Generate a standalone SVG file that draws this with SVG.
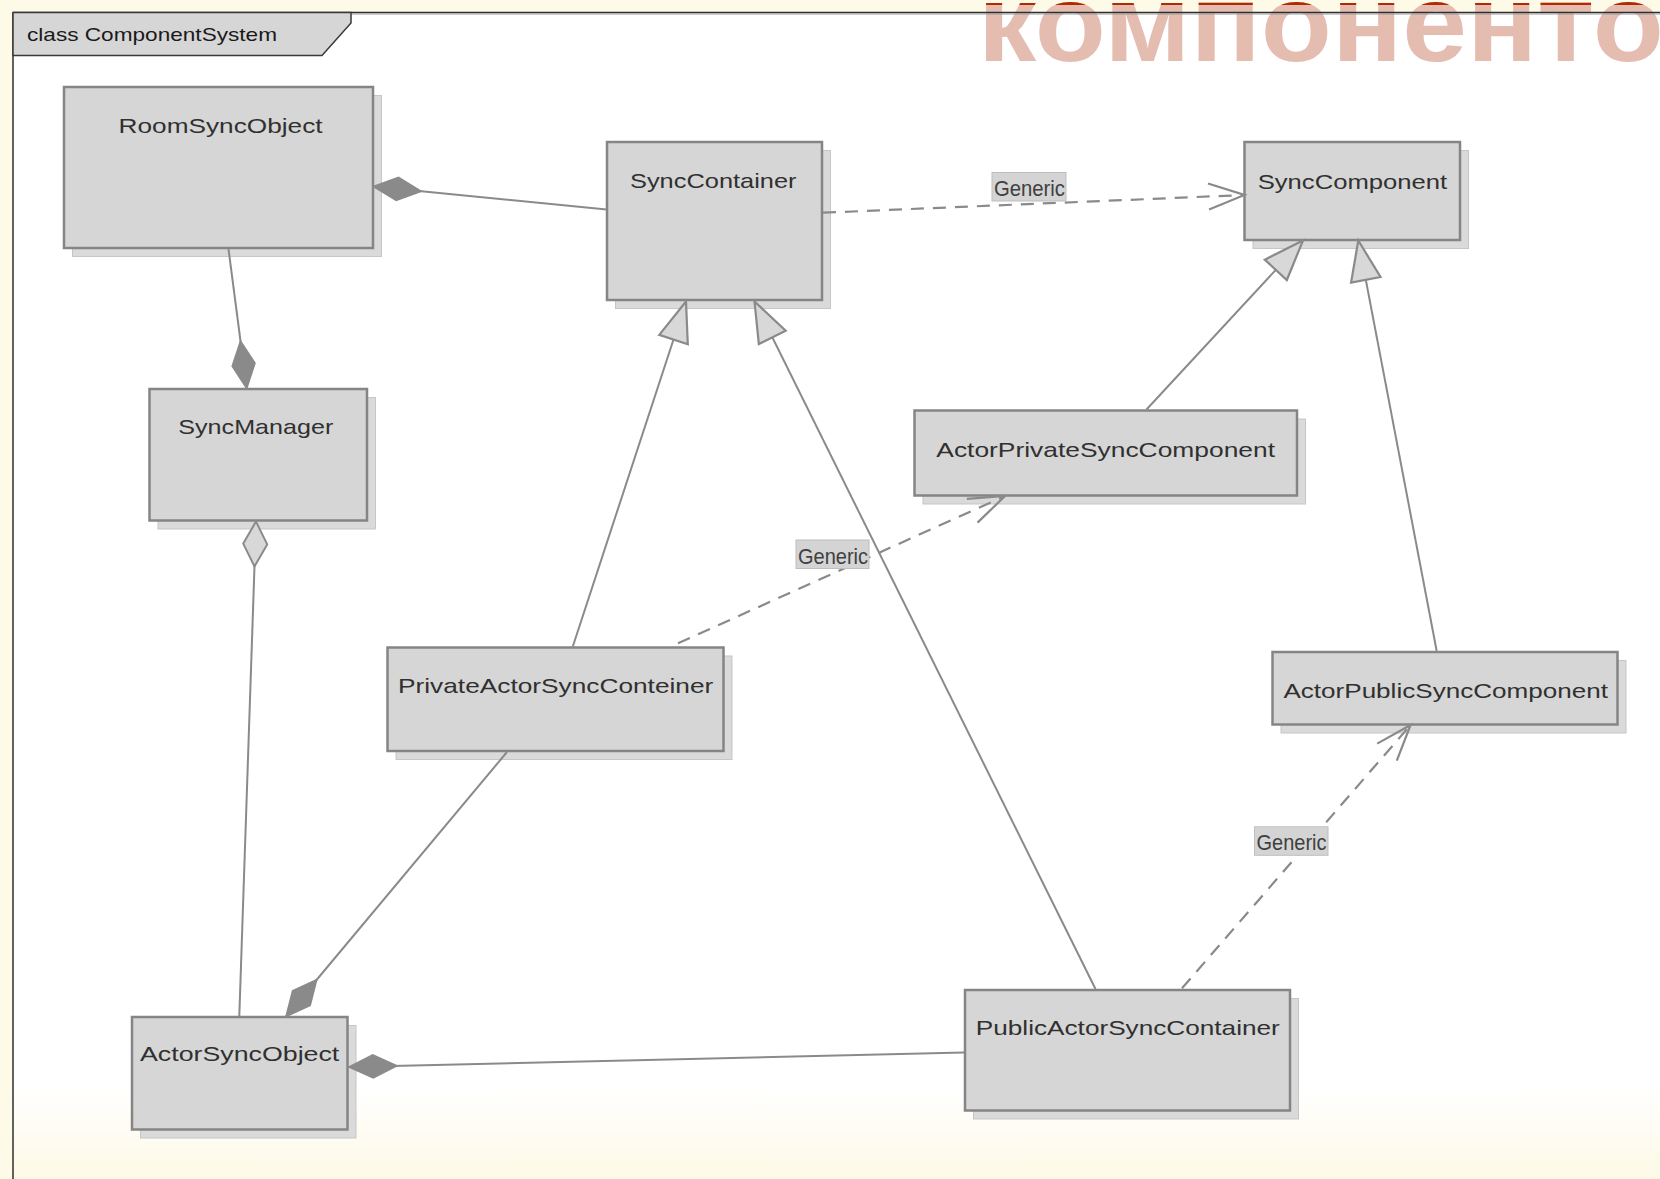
<svg xmlns="http://www.w3.org/2000/svg" width="1660" height="1179" viewBox="0 0 1660 1179">
<style>
.box{fill:#D6D6D6;stroke:#858585;stroke-width:2.5}
.shd{fill:#DADADA;stroke:#C6C6C6;stroke-width:1}
.nt{font-family:"Liberation Sans",Arial,sans-serif;font-size:21px;fill:#303030}
.lb{fill:#D4D4D4;stroke:#BEBEBE;stroke-width:1}
.lt{font-family:"Liberation Sans",Arial,sans-serif;font-size:22px;fill:#404040}
.ln{fill:none;stroke:#8A8A8A;stroke-width:2}
.dl{fill:none;stroke:#8A8A8A;stroke-width:2.2;stroke-dasharray:13 9}
</style>
<defs>
<linearGradient id="bg" x1="0" y1="0" x2="0" y2="1">
<stop offset="0" stop-color="#FFFFFF"/>
<stop offset="0.92" stop-color="#FFFFFF"/>
<stop offset="1" stop-color="#FDF9E6"/>
</linearGradient>
<clipPath id="topband"><rect x="0" y="0" width="1660" height="5"/></clipPath>
<marker id="fdia" markerUnits="userSpaceOnUse" orient="auto" refX="0" refY="0" markerWidth="60" markerHeight="30" overflow="visible">
<path d="M0,0 L-24,-11.5 L-48,0 L-24,11.5 Z" fill="#8A8A8A" stroke="#8A8A8A" stroke-width="1.5" stroke-dasharray="none"/>
</marker>
<marker id="hdia" markerUnits="userSpaceOnUse" orient="auto" refX="0" refY="0" markerWidth="60" markerHeight="30" overflow="visible">
<path d="M0,0 L-22.5,-12 L-45,0 L-22.5,12 Z" fill="#D8D8D8" stroke="#8A8A8A" stroke-width="2" stroke-dasharray="none"/>
</marker>
<marker id="tri" markerUnits="userSpaceOnUse" orient="auto" refX="0" refY="0" markerWidth="50" markerHeight="40" overflow="visible">
<path d="M0,0 L-40,-15 L-40,15 Z" fill="#D8D8D8" stroke="#8A8A8A" stroke-width="2.2" stroke-dasharray="none"/>
</marker>
<marker id="open" markerUnits="userSpaceOnUse" orient="auto" refX="0" refY="0" markerWidth="50" markerHeight="40" overflow="visible">
<path d="M-36,-13 L0,0 L-36,13" fill="none" stroke="#8A8A8A" stroke-width="2.2" stroke-dasharray="none"/>
</marker>
</defs>

<rect x="0" y="0" width="1660" height="1179" fill="#FDFAE8"/>
<rect x="13" y="13" width="1647" height="1166" fill="url(#bg)"/>

<g id="watermark">
<text x="978" y="61" font-family="'Liberation Sans',Arial,sans-serif" font-size="110" font-weight="bold" fill="#E5BDB0" textLength="686" lengthAdjust="spacingAndGlyphs">компоненто</text>
<text x="978" y="61" font-family="'Liberation Sans',Arial,sans-serif" font-size="110" font-weight="bold" fill="#B12A00" textLength="686" lengthAdjust="spacingAndGlyphs" clip-path="url(#topband)">компоненто</text>
</g>

<g id="frame">
<line x1="13" y1="12.5" x2="1660" y2="12.5" stroke="#2E2E2E" stroke-width="1.5"/>
<line x1="13" y1="14" x2="1660" y2="14" stroke="#9A9A9A" stroke-width="1"/>
<line x1="13" y1="12.5" x2="13" y2="1179" stroke="#2E2E2E" stroke-width="1.5"/>
<path d="M13,12.5 L351,12.5 L351,23 L322,55.5 L13,55.5 Z" fill="#D6D6D6" stroke="#3A3A3A" stroke-width="1.5"/>
<text x="27" y="41" font-family="'Liberation Sans',Arial,sans-serif" font-size="19" fill="#1A1A1A" textLength="250" lengthAdjust="spacingAndGlyphs">class ComponentSystem</text>
</g>

<g id="RoomSyncObject">
<rect class="shd" x="72.5" y="95.5" width="309" height="161"/>
<rect class="box" x="64" y="87" width="309" height="161"/>
<text class="nt" x="118.6" y="133" textLength="204" lengthAdjust="spacingAndGlyphs">RoomSyncObject</text>
</g>
<g id="SyncContainer">
<rect class="shd" x="615.5" y="150.5" width="215" height="158"/>
<rect class="box" x="607" y="142" width="215" height="158"/>
<text class="nt" x="630" y="188" textLength="166.5" lengthAdjust="spacingAndGlyphs">SyncContainer</text>
</g>
<g id="SyncComponent">
<rect class="shd" x="1253" y="150.5" width="215.5" height="98"/>
<rect class="box" x="1244.5" y="142" width="215.5" height="98"/>
<text class="nt" x="1257.7" y="188.5" textLength="189.5" lengthAdjust="spacingAndGlyphs">SyncComponent</text>
</g>
<g id="SyncManager">
<rect class="shd" x="158" y="397.5" width="217.5" height="131.5"/>
<rect class="box" x="149.5" y="389" width="217.5" height="131.5"/>
<text class="nt" x="178.3" y="434" textLength="155" lengthAdjust="spacingAndGlyphs">SyncManager</text>
</g>
<g id="ActorPrivateSyncComponent">
<rect class="shd" x="923" y="419" width="382.5" height="85"/>
<rect class="box" x="914.5" y="410.5" width="382.5" height="85"/>
<text class="nt" x="936.3" y="456.7" textLength="338.7" lengthAdjust="spacingAndGlyphs">ActorPrivateSyncComponent</text>
</g>
<g id="PrivateActorSyncConteiner">
<rect class="shd" x="396" y="656" width="336" height="103.5"/>
<rect class="box" x="387.5" y="647.5" width="336" height="103.5"/>
<text class="nt" x="398" y="693.3" textLength="315.3" lengthAdjust="spacingAndGlyphs">PrivateActorSyncConteiner</text>
</g>
<g id="ActorPublicSyncComponent">
<rect class="shd" x="1281" y="660.5" width="345" height="72.5"/>
<rect class="box" x="1272.5" y="652" width="345" height="72.5"/>
<text class="nt" x="1283.4" y="698.3" textLength="324.6" lengthAdjust="spacingAndGlyphs">ActorPublicSyncComponent</text>
</g>
<g id="PublicActorSyncContainer">
<rect class="shd" x="973.5" y="998.5" width="325" height="120.5"/>
<rect class="box" x="965" y="990" width="325" height="120.5"/>
<text class="nt" x="975.8" y="1035" textLength="304" lengthAdjust="spacingAndGlyphs">PublicActorSyncContainer</text>
</g>
<g id="ActorSyncObject">
<rect class="shd" x="140.5" y="1025.5" width="215.5" height="112.5"/>
<rect class="box" x="132" y="1017" width="215.5" height="112.5"/>
<text class="nt" x="140" y="1060.7" textLength="199.3" lengthAdjust="spacingAndGlyphs">ActorSyncObject</text>
</g>

<g id="connectors">
<path class="ln" d="M606.6,209.6 L373.5,186.5" marker-end="url(#fdia)"/>
<path class="ln" d="M228.5,249 L246.7,388.5" marker-end="url(#fdia)"/>
<path class="ln" d="M239.3,1016 L256,521.5" marker-end="url(#hdia)"/>
<path class="ln" d="M507,752 L286,1016.5" marker-end="url(#fdia)"/>
<path class="ln" d="M964,1052.4 L349,1067" marker-end="url(#fdia)"/>
<path class="ln" d="M572.8,646.5 L686,301.5" marker-end="url(#tri)"/>
<path class="ln" d="M1095.5,989 L754.5,301.5" marker-end="url(#tri)"/>
<path class="ln" d="M1146.5,409.5 L1303,240.5" marker-end="url(#tri)"/>
<path class="ln" d="M1436.7,651 L1358.3,240.5" marker-end="url(#tri)"/>
<path class="dl" d="M823,212.7 L1244.5,195" marker-end="url(#open)"/>
<path class="dl" d="M678,643.3 L1005,496" marker-end="url(#open)"/>
<path class="dl" d="M1182,988.3 L1410.6,725" marker-end="url(#open)"/>
</g>

<g id="label-generic-1">
<rect class="lb" x="992" y="172.5" width="74" height="28.5"/>
<text class="lt" x="994" y="196" textLength="71" lengthAdjust="spacingAndGlyphs">Generic</text>
</g>
<g id="label-generic-2">
<rect class="lb" x="796" y="540" width="73" height="28.5"/>
<text class="lt" x="798" y="563.5" textLength="70" lengthAdjust="spacingAndGlyphs">Generic</text>
</g>
<g id="label-generic-3">
<rect class="lb" x="1254.5" y="826.8" width="73.5" height="28.5"/>
<text class="lt" x="1256.5" y="850.3" textLength="70" lengthAdjust="spacingAndGlyphs">Generic</text>
</g>
</svg>
